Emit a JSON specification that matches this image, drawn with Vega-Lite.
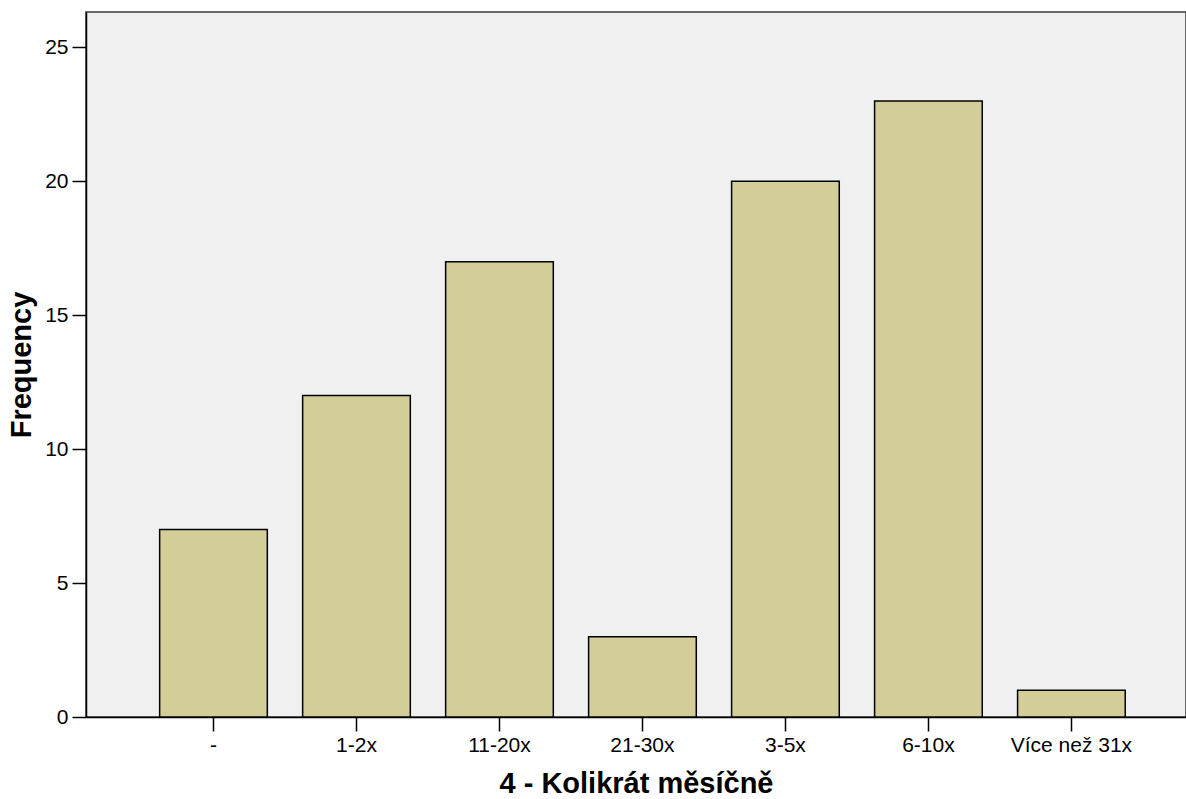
{
  "$schema": "https://vega.github.io/schema/vega-lite/v6.json",
  "width": 1100,
  "height": 705,
  "autosize": {"type": "none"},
  "padding": {"left": 86, "top": 12, "right": 0, "bottom": 82},
  "background": "white",
  "config": {
    "font": "Liberation Sans",
    "view": {"fill": "#f0f0f0", "stroke": "#3a3a3a", "strokeWidth": 1.5},
    "axis": {"grid": false, "labelFont": "Liberation Sans", "titleFont": "Liberation Sans", "labelColor": "black", "titleColor": "black", "domainColor": "black", "tickColor": "black", "domainWidth": 1.5, "tickWidth": 1.5}
  },
  "data": {
    "values": [
      {"category": "-", "frequency": 7},
      {"category": "1-2x", "frequency": 12},
      {"category": "11-20x", "frequency": 17},
      {"category": "21-30x", "frequency": 3},
      {"category": "3-5x", "frequency": 20},
      {"category": "6-10x", "frequency": 23},
      {"category": "Více než 31x", "frequency": 1}
    ]
  },
  "mark": {"type": "bar", "fill": "#d3ce98", "stroke": "black", "strokeWidth": 1.5},
  "encoding": {
    "x": {
      "field": "category",
      "type": "nominal",
      "sort": ["-", "1-2x", "11-20x", "21-30x", "3-5x", "6-10x", "Více než 31x"],
      "scale": {"paddingInner": 0.247, "paddingOuter": 0.47, "align": 0.548},
      "axis": {"title": "4 - Kolikrát měsíčně", "labelAngle": 0, "labelFontSize": 21, "titleFontSize": 29, "titleFontWeight": "bold", "tickSize": 14, "labelPadding": 3, "titlePadding": 14}
    },
    "y": {
      "field": "frequency",
      "type": "quantitative",
      "scale": {"domain": [0, 26.32], "nice": false},
      "axis": {"title": "Frequency", "values": [0, 5, 10, 15, 20, 25], "labelFontSize": 21, "titleFontSize": 29, "titleFontWeight": "bold", "tickSize": 14, "labelPadding": 4, "titlePadding": 8}
    }
  }
}
